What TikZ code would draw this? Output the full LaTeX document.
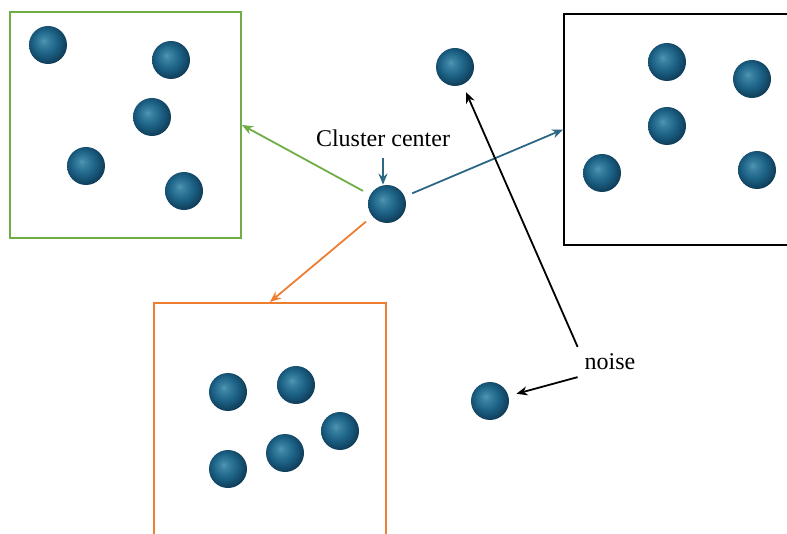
\documentclass[tikz,border=0pt]{standalone}
\usepackage{fontspec}
\setmainfont{Liberation Serif}
\usetikzlibrary{arrows.meta}
\definecolor{ballblue}{RGB}{28,98,134}
\definecolor{ballhi}{RGB}{80,150,180}
\definecolor{balledge}{RGB}{16,62,90}
\definecolor{arrowblue}{RGB}{44,104,134}
\definecolor{boxgreen}{RGB}{112,173,71}
\definecolor{boxorange}{RGB}{237,125,49}
\pgfdeclareradialshading{sphere}{\pgfpoint{-6bp}{6bp}}{color(0bp)=(ballhi); color(5bp)=(ballhi!60!ballblue); color(16bp)=(ballblue); color(27bp)=(balledge); color(50bp)=(balledge)}
\tikzset{
  ball/.style={circle, minimum size=19pt, inner sep=0pt, shading=sphere},
  frame/.style={draw=#1, line width=1pt, fill=none, inner sep=0pt},
  link/.style={line width=0.9pt, -{Stealth[length=5.5pt, width=4.5pt]}},
  lbl/.style={font=\fontsize{12}{14}\selectfont}
}
\begin{document}
\begin{tikzpicture}[x=0.5pt, y=-0.5pt]
\useasboundingbox (0, 0) rectangle (787, 534);
\clip (0, 0) rectangle (787, 534);

% groups
\node[frame=boxgreen, minimum width=115.5pt, minimum height=113pt] (gbox) at (125.5, 125) {};
\node[frame=black, minimum width=118pt, minimum height=115.5pt] (bbox) at (682, 129.5) {};
\node[frame=boxorange, minimum width=116pt, minimum height=130pt] (obox) at (270, 433) {};

\foreach \x/\y [count=\i] in {48/45, 171/60, 152/117, 86/166, 184/191} {
\node[ball] (g\i) at (\x, \y) {};
}
\foreach \x/\y [count=\i] in {667/62, 752/79, 667/126, 602/173, 757/170} {
\node[ball] (b\i) at (\x, \y) {};
}
\foreach \x/\y [count=\i] in {228/392, 296/385, 340/431, 285/453, 228/469} {
\node[ball] (o\i) at (\x, \y) {};
}

% center and noise points
\node[ball] (c) at (387, 204) {};
\node[ball] (n1) at (455, 67) {};
\node[ball] (n2) at (490, 401) {};

\node[lbl] (cl) at (383, 138) {Cluster center};
\node[lbl] (nl) at (610, 362) {noise};

\draw[link, arrowblue, shorten <=2pt] (cl.south) -- (cl.south |- c.north);
\draw[link, boxgreen, shorten <=4pt] (c) -- (gbox.east);
\draw[link, arrowblue, shorten <=4pt] (c) -- (bbox.west);
\draw[link, boxorange, shorten <=4pt] (c) -- (obox.north);
\draw[link, black, shorten >=4pt] (nl.north west) -- (n1);
\draw[link, black, shorten >=4pt] (nl.south west) -- (n2);

\end{tikzpicture}
\end{document}
